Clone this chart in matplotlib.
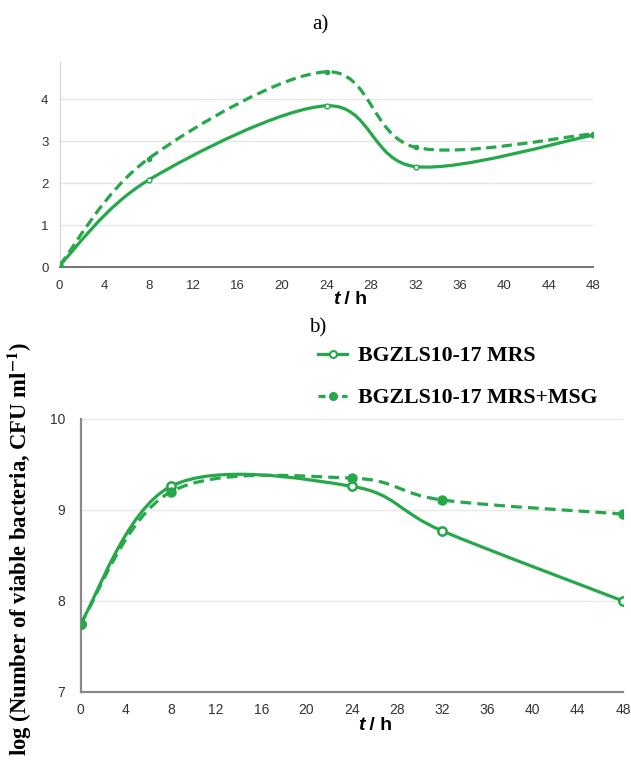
import matplotlib
matplotlib.use("Agg")
import matplotlib.pyplot as plt
from matplotlib.path import Path
from matplotlib.patches import PathPatch
from matplotlib.lines import Line2D

plt.rcParams["font.family"] = ["Liberation Sans", "DejaVu Sans"]
plt.rcParams["mathtext.fontset"] = "stix"

# data
hours = [0, 8, 24, 32, 48]
ticks_h = [0, 4, 8, 12, 16, 20, 24, 28, 32, 36, 40, 44, 48]

# panel a)
a_mrs = [0.05, 2.08, 3.85, 2.40, 3.15]
a_msg = [0.05, 2.59, 4.66, 2.86, 3.18]
a_yticks = [0, 1, 2, 3, 4]

# panel b)
b_mrs = [7.75, 9.26, 9.26, 8.77, 8.00]
b_msg = [7.75, 9.20, 9.35, 9.11, 8.955]
b_yticks = [7, 8, 9, 10]

labels = ["BGZLS10-17 MRS", "BGZLS10-17 MRS+MSG"]
green = "#25a84a"


def smooth_path(x, y):
    # excel-like smoothed line: catmull-rom turned into bezier segments
    pts = list(zip(x, y))
    n = len(pts)
    verts = [pts[0]]
    codes = [Path.MOVETO]
    for i in range(n - 1):
        p0 = pts[max(i - 1, 0)]
        p1 = pts[i]
        p2 = pts[i + 1]
        p3 = pts[min(i + 2, n - 1)]
        c1 = (p1[0] + (p2[0] - p0[0]) / 6, p1[1] + (p2[1] - p0[1]) / 6)
        c2 = (p2[0] - (p3[0] - p1[0]) / 6, p2[1] - (p3[1] - p1[1]) / 6)
        verts += [c1, c2, p2]
        codes += [Path.CURVE4] * 3
    return Path(verts, codes)


def draw_curve(ax, x, y, ls, lw):
    patch = PathPatch(smooth_path(x, y), fill=False, edgecolor=green, lw=lw,
                      linestyle=ls, capstyle="butt", transform=ax.transData, zorder=3)
    ax.add_patch(patch)


fig = plt.figure(figsize=(6.31, 7.62), dpi=100)

# ---- a) ----
ax1 = fig.add_axes([0.0945, 0.6492, 0.846, 0.2698])
draw_curve(ax1, hours, a_msg, (0, (3.2, 1.7)), 2.3)
draw_curve(ax1, hours, a_mrs, "-", 2.3)
ax1.plot(hours, a_mrs, ls="none", marker="o", ms=3.5, mfc="white", mec=green, mew=1, zorder=4)
ax1.plot(hours, a_msg, ls="none", marker="o", ms=3, mfc=green, mec=green, zorder=4)
ax1.set_xlim(0, 48)
ax1.set_ylim(0, 4.9)
ax1.set_xticks(ticks_h)
ax1.set_yticks(a_yticks)
for v in a_yticks[1:]:
    ax1.axhline(v, color="#e6e6e6", lw=1, zorder=1)
ax1.spines["top"].set_visible(False)
ax1.spines["right"].set_visible(False)
ax1.spines["left"].set_color("#d2d2d2")
ax1.spines["bottom"].set_color("#777777")
ax1.spines["bottom"].set_linewidth(1.5)
ax1.tick_params(length=0, labelsize=9.5, labelcolor="#333333")
ax1.tick_params(axis="x", pad=9)
ax1.tick_params(axis="y", pad=8)

# ---- b) ----
ax2 = fig.add_axes([0.1276, 0.0919, 0.8597, 0.3583])
draw_curve(ax2, hours, b_msg, (0, (3.4, 1.9)), 2.3)
draw_curve(ax2, hours, b_mrs, "-", 2.3)
ax2.plot(hours, b_mrs, ls="none", marker="o", ms=6, mfc="white", mec=green, mew=1.8, zorder=4)
ax2.plot(hours, b_msg, ls="none", marker="o", ms=6.5, mfc=green, mec=green, zorder=4)
ax2.set_xlim(0, 48)
ax2.set_ylim(7, 10)
ax2.set_xticks(ticks_h)
ax2.set_yticks(b_yticks)
for v in b_yticks[1:]:
    ax2.axhline(v, color="#e9e9e9", lw=1, zorder=1)
ax2.spines["top"].set_visible(False)
ax2.spines["right"].set_visible(False)
for s in ["left", "bottom"]:
    ax2.spines[s].set_color("#8a8a8a")
    ax2.spines[s].set_linewidth(1.6)
ax2.tick_params(length=0, labelsize=10, labelcolor="#333333")
ax2.tick_params(axis="x", pad=8)
ax2.tick_params(axis="y", pad=11)

handles = [
    Line2D([], [], color=green, lw=2.3, marker="o", ms=5, mfc="white", mec=green, mew=1.5),
    Line2D([], [], color=green, lw=2.3, ls=(0, (2.2, 1.5)), marker="o", ms=5.5, mfc=green, mec=green),
]
fig.legend(handles, labels, loc="upper left", bbox_to_anchor=(0.504, 0.546),
           frameon=False, borderpad=0, borderaxespad=0, handlelength=1.35,
           handletextpad=0.5, labelspacing=1.0,
           prop={"family": "Liberation Serif", "weight": "bold", "size": 15.7})

# panel letters and axis titles
fig.text(320 / 631, 1 - 25 / 762, "a)", ha="center", va="center",
         family="Liberation Serif", fontsize=15)
fig.text(318 / 631, 1 - 328 / 762, "b)", ha="center", va="center",
         family="Liberation Serif", fontsize=15)

for cx, cy in [(347, 300), (372, 725)]:
    fig.text(cx / 631 - 0.012, 1 - cy / 762, "t", ha="right", va="center",
             weight="bold", style="italic", fontsize=14)
    fig.text(cx / 631 - 0.012, 1 - cy / 762, " / h", ha="left", va="center",
             weight="bold", fontsize=14)

fig.text(20 / 631, 1 - 549 / 762,
         r"log (Number of viable bacteria, CFU ml$^{\mathbf{-1}}$)",
         rotation=90, ha="center", va="center",
         family="Liberation Serif", weight="bold", fontsize=16.3)

fig.savefig("out.png", dpi=100)
